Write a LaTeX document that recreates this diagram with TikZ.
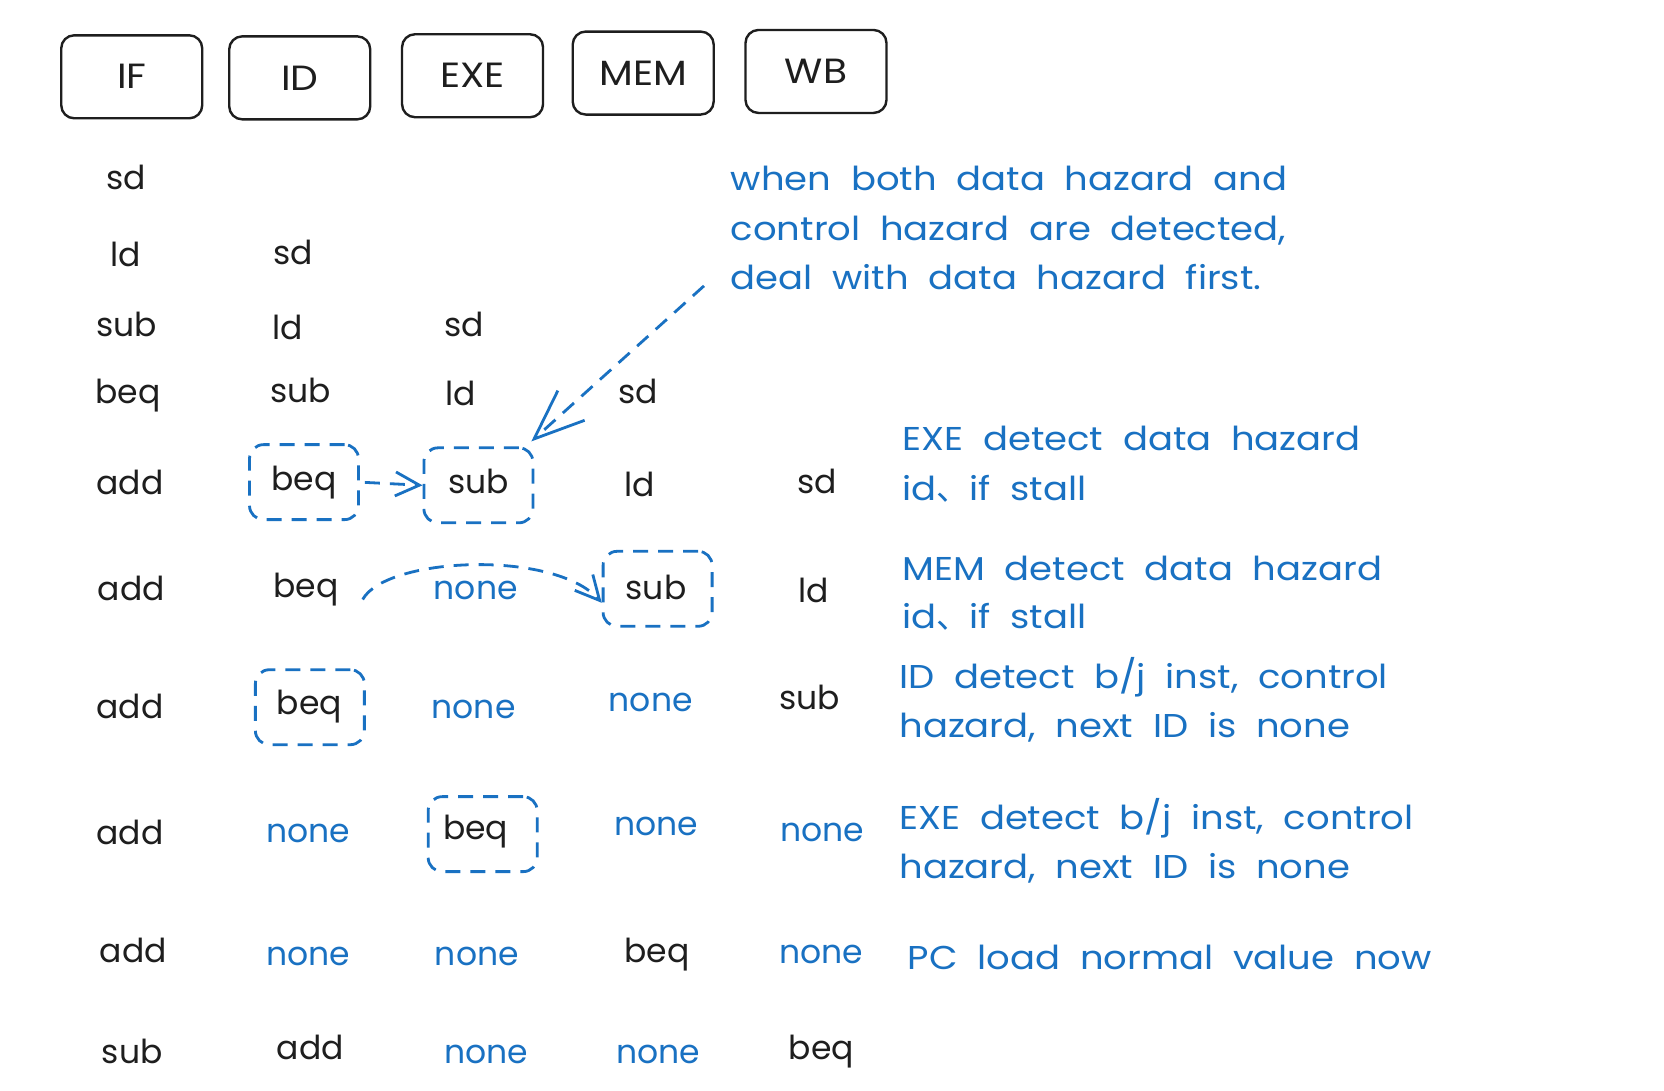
\documentclass[tikz,border=0pt]{standalone}
\usepackage{fontspec}
\setmainfont{Poppins}
\newfontfamily\notefont[FakeStretch=1.12,WordSpace=2]{Poppins}
\newfontfamily\cjk{Noto Sans CJK SC}
\usetikzlibrary{arrows.meta}
\definecolor{ink}{HTML}{1E1E1E}
\definecolor{hazblue}{HTML}{1971C2}
\begin{document}
\begin{tikzpicture}[x=1.0667pt,y=-1.0667pt,
  txt/.style={font=\fontsize{33}{40}\selectfont, inner sep=0pt},
  cell/.style={txt, text=ink, anchor=base},
  nonecell/.style={cell, text=hazblue},
  stage/.style={draw=ink, line width=2.4pt, rounded corners=13pt,
    minimum width=141pt, minimum height=83pt,
    font=\notefont\fontsize{35}{40}\selectfont, text=ink},
  dbox/.style={draw=hazblue, line width=2.8pt, dash pattern=on 15pt off 10pt,
    rounded corners=14pt, minimum width=109pt, minimum height=75pt, inner sep=0pt},
  notetext/.style={font=\notefont\fontsize{33}{40}\selectfont, inner sep=0pt,
    text=hazblue, anchor=base west},
  link/.style={draw=hazblue, line width=2.8pt, dash pattern=on 15pt off 10pt,
    -{Straight Barb[length=24pt,width=24pt,line width=2.8pt]}},
  biglink/.style={link, -{Straight Barb[length=50pt,width=40pt,line width=2.8pt]}}
]
\fill[white] (0,0) rectangle (1560,1022);
\useasboundingbox (0,0) rectangle (1560,1022);

% pipeline stage headers
\node[stage] (hIF)  at (123.5,72) {IF};
\node[stage] (hID)  at (281,73)   {ID};
\node[stage] (hEXE) at (443,71)   {EXE};
\node[stage] (hMEM) at (603,68.5) {MEM};
\node[stage] (hWB)  at (765,67)   {WB};

% row 1
\node[cell] (r1c1) at (118,178) {sd};
% row 2
\node[cell] (r2c1) at (118,250) {ld};
\node[cell] (r2c2) at (275,248) {sd};
% row 3
\node[cell] (r3c1) at (119,315) {sub};
\node[cell] (r3c2) at (270,318) {ld};
\node[cell] (r3c3) at (435,315) {sd};
% row 4
\node[cell] (r4c1) at (120,378) {beq};
\node[cell] (r4c2) at (282,377) {sub};
\node[cell] (r4c3) at (432,380) {ld};
\node[cell] (r4c4) at (598,378) {sd};
% row 5
\node[cell] (r5c1) at (122,464) {add};
\node[cell] (r5c2) at (285,460) {beq};
\node[cell] (r5c3) at (449,463) {sub};
\node[cell] (r5c4) at (600,465) {ld};
\node[cell] (r5c5) at (766,463) {sd};
% row 6
\node[cell] (r6c1) at (123,563) {add};
\node[cell] (r6c2) at (287,560) {beq};
\node[nonecell] (r6c3) at (446,562) {none};
\node[cell] (r6c4) at (615,562) {sub};
\node[cell] (r6c5) at (763,565) {ld};
% row 7
\node[cell] (r7c1) at (122,674) {add};
\node[cell] (r7c2) at (290,670) {beq};
\node[nonecell] (r7c3) at (444,674) {none};
\node[nonecell] (r7c4) at (610,667) {none};
\node[cell] (r7c5) at (759,665) {sub};
% row 8
\node[cell] (r8c1) at (122,792) {add};
\node[nonecell] (r8c2) at (289,790) {none};
\node[cell] (r8c3) at (446,787) {beq};
\node[nonecell] (r8c4) at (615,783) {none};
\node[nonecell] (r8c5) at (771,789) {none};
% row 9
\node[cell] (r9c1) at (125,902) {add};
\node[nonecell] (r9c2) at (289,905) {none};
\node[nonecell] (r9c3) at (447,905) {none};
\node[cell] (r9c4) at (616,902) {beq};
\node[nonecell] (r9c5) at (770,903) {none};
% row 10
\node[cell] (r10c1) at (124,997) {sub};
\node[cell] (r10c2) at (291,993) {add};
\node[nonecell] (r10c3) at (456,997) {none};
\node[nonecell] (r10c4) at (617,997) {none};
\node[cell] (r10c5) at (770,993) {beq};

% dashed highlight boxes
\node[dbox] (bxA) at (285,452) {};
\node[dbox] (bxB) at (448.5,455) {};
\node[dbox] (bxC) at (616.5,552) {};
\node[dbox] (bxD) at (290.5,663) {};
\node[dbox] (bxE) at (452.5,782) {};

% annotations
\node[notetext] (n1a) at (685,179) {when both data hazard and};
\node[notetext] (n1b) at (685,225) {control hazard are detected,};
\node[notetext] (n1c) at (685,271) {deal with data hazard first.};
\node[notetext] (n2a) at (846,422) {EXE detect data hazard};
\node[notetext] (n2b) at (846,469) {id{\cjk 、}if stall};
\node[notetext] (n3a) at (846,544) {MEM detect data hazard};
\node[notetext] (n3b) at (846,589) {id{\cjk 、}if stall};
\node[notetext] (n4a) at (843,645) {ID detect b/j inst, control};
\node[notetext] (n4b) at (843,691) {hazard, next ID is none};
\node[notetext] (n5a) at (843,778) {EXE detect b/j inst, control};
\node[notetext] (n5b) at (843,824) {hazard, next ID is none};
\node[notetext] (n6)  at (851,909) {PC load normal value now};

% connectors
\coordinate (hintStart) at (660,268);
\draw[biglink] (hintStart) -- ([xshift=-3pt,yshift=5pt]bxB.north east);
\draw[link, shorten <=5pt] (bxA.east) -- (bxB.west);
\coordinate (curveStart) at (340,562);
\draw[link] (curveStart) .. controls (362,522) and (520,515) .. ([yshift=-14pt]bxC.west);
\end{tikzpicture}
\end{document}
